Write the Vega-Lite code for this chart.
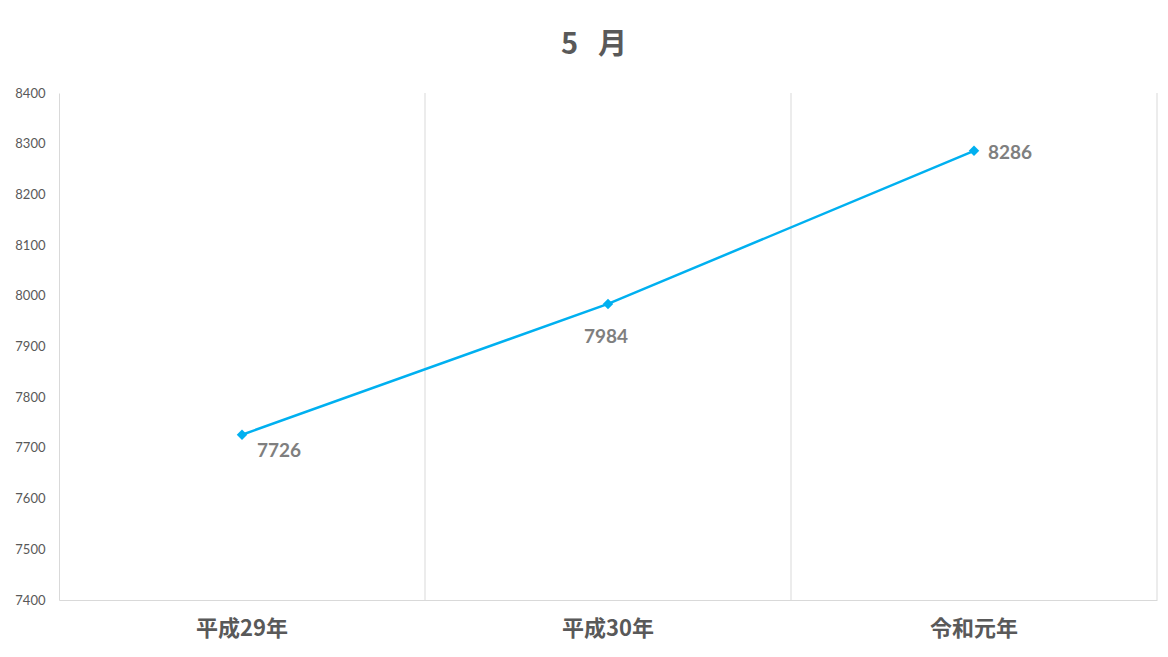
{
  "$schema": "https://vega.github.io/schema/vega-lite/v6.json",
  "width": 1098,
  "height": 507,
  "autosize": {"type": "none"},
  "padding": {"left": 59, "top": 93, "right": 11, "bottom": 57},
  "background": "white",
  "title": {
    "text": "5\u00a0\u00a0\u00a0月",
    "fontSize": 29,
    "font": "Noto Sans CJK JP",
    "fontWeight": "bold",
    "color": "#595959",
    "anchor": "middle",
    "offset": 27,
    "dx": -14
  },
  "data": {
    "values": [
      {"year": "平成29年", "value": 7726},
      {"year": "平成30年", "value": 7984},
      {"year": "令和元年", "value": 8286}
    ]
  },
  "layer": [
    {
      "mark": {"type": "rule", "color": "#D9D9D9", "strokeWidth": 1},
      "encoding": {
        "x": {"field": "year", "type": "ordinal", "sort": null, "bandPosition": 1},
        "y": {"datum": 7400, "type": "quantitative", "scale": {"domain": [7400, 8400], "nice": false, "zero": false}},
        "y2": {"datum": 8400}
      }
    },
    {
      "mark": {"type": "line", "color": "#00B0F0", "strokeWidth": 2.5},
      "encoding": {
        "x": {"field": "year", "type": "ordinal", "sort": null},
        "y": {"field": "value", "type": "quantitative", "scale": {"domain": [7400, 8400], "nice": false, "zero": false}}
      }
    },
    {
      "mark": {"type": "point", "shape": "diamond", "filled": true, "color": "#00B0F0", "size": 110, "opacity": 1},
      "encoding": {
        "x": {"field": "year", "type": "ordinal", "sort": null},
        "y": {"field": "value", "type": "quantitative"}
      }
    },
    {
      "transform": [{"filter": "datum.year === '平成29年'"}],
      "mark": {"type": "text", "font": "Lato", "fontSize": 19, "fontWeight": "bold", "color": "#7F7F7F", "align": "left", "baseline": "middle", "dx": 15, "dy": 16},
      "encoding": {
        "x": {"field": "year", "type": "ordinal", "sort": null},
        "y": {"field": "value", "type": "quantitative"},
        "text": {"field": "value", "type": "quantitative", "format": "d"}
      }
    },
    {
      "transform": [{"filter": "datum.year === '平成30年'"}],
      "mark": {"type": "text", "font": "Lato", "fontSize": 19, "fontWeight": "bold", "color": "#7F7F7F", "align": "center", "baseline": "middle", "dx": -2, "dy": 33},
      "encoding": {
        "x": {"field": "year", "type": "ordinal", "sort": null},
        "y": {"field": "value", "type": "quantitative"},
        "text": {"field": "value", "type": "quantitative", "format": "d"}
      }
    },
    {
      "transform": [{"filter": "datum.year === '令和元年'"}],
      "mark": {"type": "text", "font": "Lato", "fontSize": 19, "fontWeight": "bold", "color": "#7F7F7F", "align": "left", "baseline": "middle", "dx": 14, "dy": 2},
      "encoding": {
        "x": {"field": "year", "type": "ordinal", "sort": null},
        "y": {"field": "value", "type": "quantitative"},
        "text": {"field": "value", "type": "quantitative", "format": "d"}
      }
    }
  ],
  "config": {
    "view": {"stroke": null},
    "scale": {"bandPaddingInner": 0, "bandPaddingOuter": 0},
    "axisX": {
      "title": null,
      "labelAngle": 0,
      "labelFont": "Noto Sans CJK JP",
      "labelFontSize": 22,
      "labelFontWeight": "bold",
      "labelColor": "#595959",
      "labelPadding": 18,
      "ticks": false,
      "grid": false,
      "domainColor": "#D9D9D9"
    },
    "axisY": {
      "title": null,
      "grid": false,
      "ticks": false,
      "domain": true,
      "domainColor": "#D9D9D9",
      "format": "d",
      "values": [7400, 7500, 7600, 7700, 7800, 7900, 8000, 8100, 8200, 8300, 8400],
      "labelFont": "Lato",
      "labelFontSize": 13,
      "labelColor": "#595959",
      "labelPadding": 14
    }
  }
}
